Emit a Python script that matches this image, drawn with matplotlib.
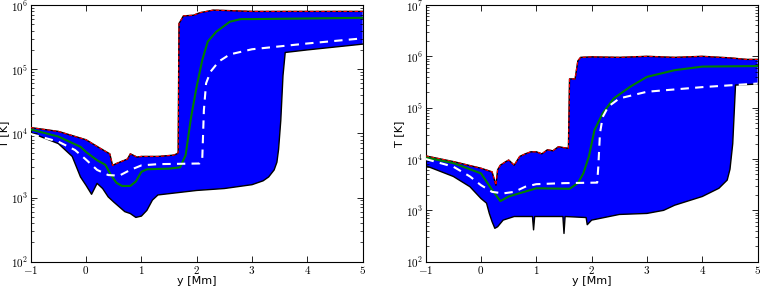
import matplotlib
matplotlib.use("Agg")
import matplotlib.pyplot as plt
from matplotlib.ticker import LogLocator, NullFormatter
import numpy as np

plt.rcParams['mathtext.fontset'] = 'cm'
plt.rcParams['font.family'] = ['DejaVu Sans']

# ---------------- Left panel data (log10 T) ----------------
L_up_x = [-1, -0.5, 0, 0.25, 0.43, 0.48, 0.55, 0.75, 0.8, 0.85, 0.92, 1.0, 1.3, 1.58, 1.64, 1.665, 1.68, 1.76, 1.94, 2.06, 2.3, 2.66, 3.0, 4.0, 5.0]
L_up_y = [4.09, 4.03, 3.90, 3.77, 3.68, 3.50, 3.53, 3.60, 3.68, 3.66, 3.63, 3.64, 3.64, 3.66, 3.68, 3.70, 5.71, 5.83, 5.84, 5.88, 5.92, 5.91, 5.90, 5.90, 5.90]
L_lo_x = [-1, -0.5, -0.25, -0.1, 0, 0.1, 0.2, 0.3, 0.4, 0.5, 0.7, 0.8, 0.9, 1.0, 1.1, 1.2, 1.3, 1.5, 2.0, 2.5, 3.0, 3.2, 3.3, 3.4, 3.45, 3.48, 3.52, 3.56, 3.6, 4.0, 5.0]
L_lo_y = [4.01, 3.84, 3.64, 3.32, 3.19, 3.05, 3.22, 3.14, 3.01, 2.93, 2.78, 2.75, 2.69, 2.71, 2.80, 2.96, 3.04, 3.06, 3.11, 3.14, 3.20, 3.26, 3.32, 3.43, 3.55, 3.75, 4.20, 4.90, 5.26, 5.30, 5.39]
L_med_x = [-1, -0.5, -0.1, 0, 0.2, 0.35, 0.45, 0.55, 0.65, 0.8, 0.9, 1.0, 1.1, 1.5, 1.7, 1.8, 1.9, 2.0, 2.1, 2.2, 2.35, 2.6, 2.8, 3.0, 5.0]
L_med_y = [4.06, 3.95, 3.79, 3.71, 3.58, 3.51, 3.35, 3.23, 3.18, 3.18, 3.25, 3.40, 3.44, 3.45, 3.47, 3.66, 4.26, 4.73, 5.14, 5.43, 5.58, 5.74, 5.78, 5.78, 5.80]
L_ref_x = [-1, -0.5, -0.2, 0, 0.2, 0.4, 0.6, 0.8, 1.0, 1.3, 2.05, 2.1, 2.13, 2.17, 2.25, 2.4, 2.6, 3.0, 4.0, 5.0]
L_ref_y = [3.99, 3.87, 3.74, 3.59, 3.43, 3.35, 3.34, 3.43, 3.50, 3.52, 3.53, 3.58, 4.36, 4.78, 4.96, 5.12, 5.23, 5.31, 5.40, 5.48]

# ---------------- Right panel data (log10 T) ----------------
R_up_x = [-1, -0.5, 0, 0.2, 0.27, 0.3, 0.35, 0.45, 0.5, 0.6, 0.7, 0.8, 0.9, 1.0, 1.1, 1.2, 1.3, 1.4, 1.5, 1.58, 1.6, 1.7, 1.75, 1.8, 2.0, 2.5, 3.0, 3.5, 4.0, 4.5, 4.8, 5.0]
R_up_y = [4.06, 3.95, 3.82, 3.75, 3.49, 3.79, 3.88, 3.95, 3.98, 3.88, 4.05, 4.10, 4.14, 4.14, 4.10, 4.18, 4.16, 4.24, 4.22, 4.21, 5.56, 5.56, 5.91, 5.98, 5.99, 5.98, 6.00, 5.98, 6.00, 5.97, 5.94, 5.94]
R_lo_x = [-1, -0.5, -0.2, 0, 0.1, 0.15, 0.2, 0.25, 0.3, 0.4, 0.6, 0.93, 0.95, 0.97, 1.0, 1.48, 1.5, 1.52, 1.9, 1.92, 2.0, 2.5, 3.0, 3.3, 3.5, 4.0, 4.3, 4.45, 4.5, 4.55, 4.6, 5.0]
R_lo_y = [3.87, 3.66, 3.46, 3.23, 3.14, 2.94, 2.78, 2.65, 2.68, 2.81, 2.88, 2.88, 2.62, 2.88, 2.88, 2.88, 2.55, 2.88, 2.86, 2.72, 2.81, 2.92, 2.94, 3.00, 3.10, 3.27, 3.43, 3.59, 3.80, 4.30, 5.44, 5.46]
R_med_x = [-1, -0.5, 0, 0.2, 0.35, 0.5, 1.0, 1.6, 1.75, 1.85, 1.95, 2.05, 2.2, 2.4, 2.7, 3.0, 3.5, 4.0, 5.0]
R_med_y = [4.03, 3.92, 3.72, 3.40, 3.18, 3.27, 3.43, 3.42, 3.53, 3.72, 4.05, 4.56, 4.89, 5.18, 5.41, 5.60, 5.73, 5.80, 5.81]
R_ref_x = [-1, -0.5, -0.2, 0, 0.2, 0.4, 0.6, 0.8, 1.0, 1.5, 2.1, 2.12, 2.15, 2.2, 2.3, 2.5, 3.0, 4.0, 5.0]
R_ref_y = [4.00, 3.85, 3.66, 3.49, 3.36, 3.33, 3.36, 3.46, 3.51, 3.53, 3.54, 3.85, 4.50, 4.82, 5.02, 5.18, 5.31, 5.40, 5.47]

x_ticks = [-1, 0, 1, 2, 3, 4, 5]

fig = plt.figure(figsize=(7.6, 2.86), dpi=100)
axL = fig.add_axes([0.0404, 0.085, 0.4368, 0.8976])
axR = fig.add_axes([0.5601, 0.085, 0.4368, 0.8976])

def panel(ax, upx, upy, lox, loy, mx, my, rx, ry, ymax_exp):
    upx = np.array(upx); upy = 10 ** np.array(upy)
    lox = np.array(lox); loy = 10 ** np.array(loy)
    px = np.concatenate([upx, lox[::-1]])
    py = np.concatenate([upy, loy[::-1]])
    ax.fill(px, py, color='#0000ff', lw=0, zorder=1)
    ax.plot(lox, loy, color='black', lw=1.0, zorder=2)
    ax.plot(upx, upy, color='black', lw=1.0, zorder=2)
    ax.plot(upx, upy, color='red', lw=0.8, ls='--', dashes=(3, 2), zorder=3)
    ax.plot(mx, 10 ** np.array(my), color='#007f00', lw=1.5, zorder=4)
    ax.plot(rx, 10 ** np.array(ry), color='white', lw=1.5, ls='--', dashes=(4, 3), zorder=5)
    ax.set_yscale('log')
    ax.set_xlim(-1, 5)
    ax.set_ylim(1e2, 10 ** ymax_exp)
    ax.set_xticks(x_ticks)
    ax.set_xticklabels([r'$%s$' % ('-' + str(abs(t)) if t < 0 else str(t)) for t in x_ticks])
    yt = [10 ** e for e in range(2, ymax_exp + 1)]
    ax.set_yticks(yt)
    ax.set_yticklabels([r'$10^{%d}$' % e for e in range(2, ymax_exp + 1)])
    ax.yaxis.set_minor_locator(LogLocator(base=10, subs=np.arange(2, 10), numticks=20))
    ax.yaxis.set_minor_formatter(NullFormatter())
    ax.tick_params(which='major', direction='in', top=True, right=True, labelsize=8, length=4, width=0.6, pad=2)
    ax.tick_params(which='minor', direction='in', top=True, right=True, length=2, width=0.5)
    for s in ax.spines.values():
        s.set_linewidth(0.8)
    ax.set_xlabel('y [Mm]', fontsize=8, labelpad=0)
    ax.set_ylabel('T [K]', fontsize=8, labelpad=1)

panel(axL, L_up_x, L_up_y, L_lo_x, L_lo_y, L_med_x, L_med_y, L_ref_x, L_ref_y, 6)
panel(axR, R_up_x, R_up_y, R_lo_x, R_lo_y, R_med_x, R_med_y, R_ref_x, R_ref_y, 7)

fig.savefig('out.png', dpi=100)
